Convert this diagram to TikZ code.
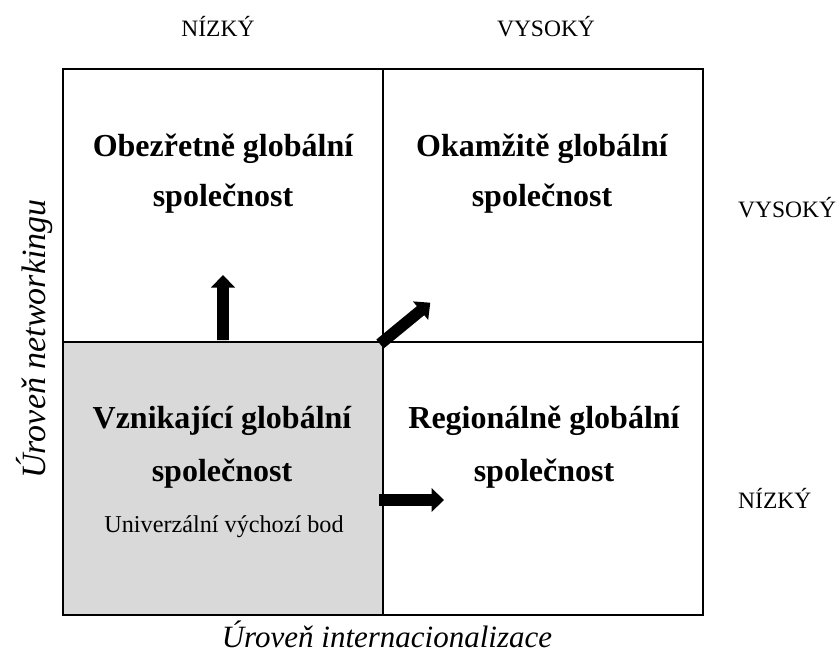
\documentclass[tikz,border=0pt]{standalone}
\usepackage{fontspec}
\setmainfont{Liberation Serif}
\usetikzlibrary{positioning}
\definecolor{startgray}{HTML}{D9D9D9}
\tikzset{
  quad/.style={draw=black, line width=2pt, minimum width=320pt, minimum height=273pt, inner sep=0pt, outer sep=0pt},
  titletext/.style={font=\fontsize{32}{38}\selectfont\bfseries, anchor=base, inner sep=0pt},
  subtext/.style={font=\fontsize{24.2}{28}\selectfont, anchor=base, inner sep=0pt},
  axislabel/.style={font=\fontsize{23.5}{27}\selectfont, anchor=base, inner sep=0pt},
  axistitle/.style={font=\fontsize{31}{36}\selectfont\itshape, anchor=base, inner sep=0pt},
  pics/fatarrow/.style={code={
    \fill[black] (0,-5.8) -- (#1-12.5,-5.8) -- (#1-12.5,-12) -- (#1,0) -- (#1-12.5,12) -- (#1-12.5,5.8) -- (0,5.8) -- cycle;
  }}
}
\begin{document}
\begin{tikzpicture}[x=1pt,y=-1pt]
\useasboundingbox (0,0) rectangle (837,660);
% quadrants
\node[quad, fill=startgray, anchor=north west] (bl) at (63,342) {};
\node[quad, anchor=north west] (tl) at (63,69) {};
\node[quad, anchor=north west] (tr) at (383,69) {};
\node[quad, anchor=north west] (br) at (383,342) {};
\draw[line width=2pt] (tl.north west) rectangle (br.south east);
% titles
\node[titletext] (tl1) at (223,157) {Obezřetně globální};
\node[titletext] (tl2) at (223,207) {společnost};
\node[titletext] (tr1) at (542,157) {Okamžitě globální};
\node[titletext] (tr2) at (542,207) {společnost};
\node[titletext] (bl1) at (222,428) {Vznikající globální};
\node[titletext] (bl2) at (222,481) {společnost};
\node[subtext] (bl3) at (224,532) {Univerzální výchozí bod};
\node[titletext] (br1) at (544,428) {Regionálně globální};
\node[titletext] (br2) at (544,481) {společnost};
% axis labels
\node[axislabel] (xlow) at (218,37) {NÍZKÝ};
\node[axislabel] (xhigh) at (546,37) {VYSOKÝ};
\node[axislabel, anchor=base west] (yhigh) at (738,218) {VYSOKÝ};
\node[axislabel, anchor=base west] (ylow) at (738,508) {NÍZKÝ};
\node[axistitle] (xtitle) at (387,647) {Úroveň internacionalizace};
\node[axistitle, font=\fontsize{34}{40}\selectfont\itshape, rotate=90] (ytitle) at (45,339) {Úroveň networkingu};
% arrows
\pic[rotate=90] at (223,340) {fatarrow=65};
\pic at (379,500) {fatarrow=65};
\pic[rotate=39.4] at (380,344) {fatarrow=65};
\end{tikzpicture}
\end{document}
